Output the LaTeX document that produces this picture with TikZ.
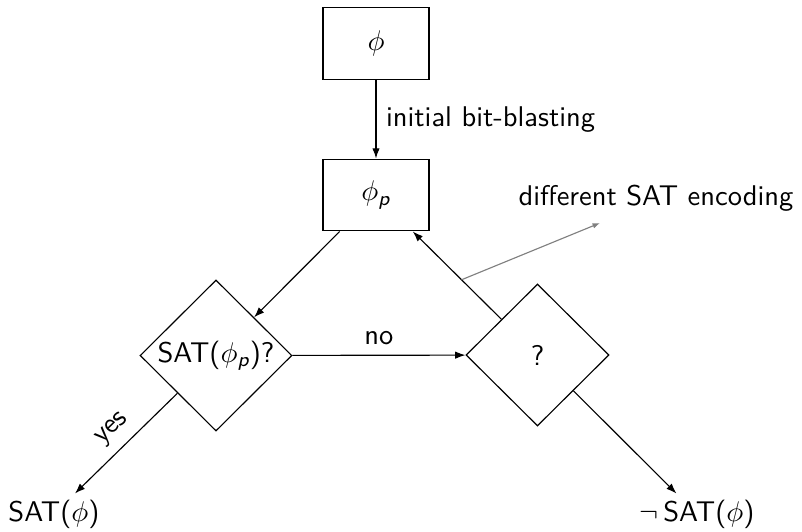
\documentclass[tikz,border=0pt]{standalone}
\usepackage{amsmath}
\usetikzlibrary{shapes.geometric,arrows.meta}
\renewcommand{\familydefault}{\sfdefault}

\begin{document}
\begin{tikzpicture}[
  x=0.3509pt, y=-0.3509pt,
  font=\sffamily,
  box/.style={draw, thin, minimum width=37.2pt, minimum height=25.5pt, inner sep=0pt},
  decision/.style={draw, thin, diamond, aspect=1, inner sep=0pt},
  plain/.style={inner sep=2pt},
  arr/.style={thin, -{Latex[length=3.6pt,width=2.6pt]}},
  grayarr/.style={draw=gray, thin, -{Latex[length=2.6pt,width=1.9pt]}, gray},
]
\useasboundingbox (0,0) rectangle (802,531);

% formula and its propositional encoding
\node[box] (phi) at (376,43.5) {$\phi$};
\node[box, minimum height=25.2pt] (pp) at (376,195) {$\phi_{\textit{p}}$};

% decisions
\node[decision, minimum width=53.3pt, minimum height=53pt] (sat) at (216,355.5) {SAT($\phi_{\textit{p}}$)?};
\node[decision, minimum width=50.2pt, minimum height=49.8pt] (q) at (537.5,355) {?};

% outcomes
\node[plain] (yesres) at (54,514) {SAT($\phi$)};
\node[plain] (nores) at (697,514) {$\neg\,$SAT($\phi$)};

% note on the loop back
\node[plain] (note) at (656,198) {different SAT encoding};
\coordinate (noteend) at (600,223);

% connectors
\draw[arr] (phi) -- node[right] {initial bit-blasting} (pp);
\draw[arr] (pp) -- (sat);
\draw[arr] (sat) -- node[above] {no} (q);
\draw[arr] (q) -- coordinate[pos=0.45] (loop) (pp);
\draw[arr] (sat) -- node[sloped, above] {yes} (yesres);
\draw[arr] (q) -- (nores);
\draw[grayarr] (loop) -- (noteend);
\end{tikzpicture}
\end{document}
